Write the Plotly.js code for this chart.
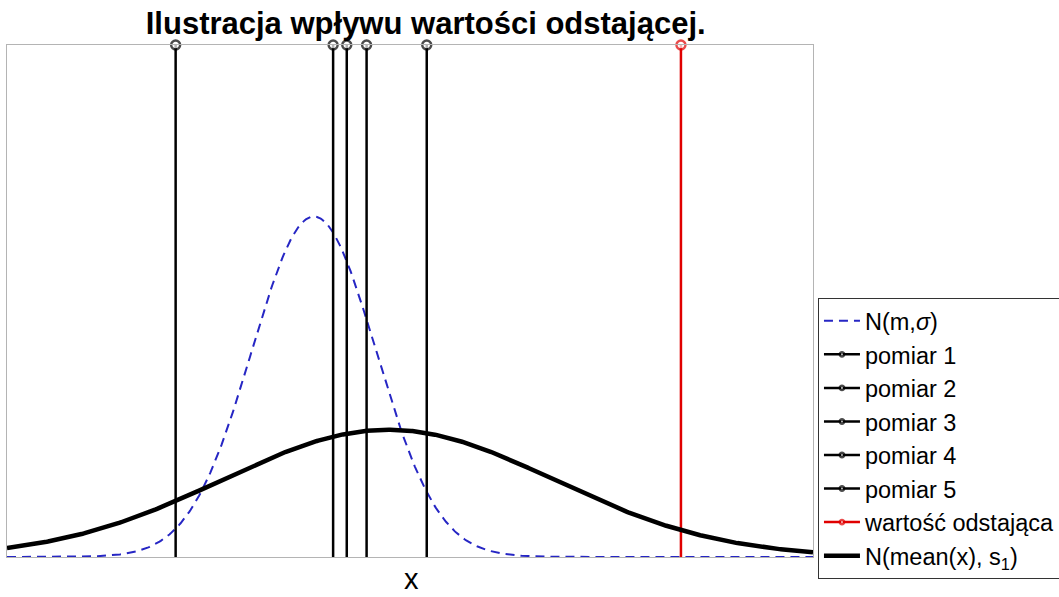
<!DOCTYPE html>
<html>
<head>
<meta charset="utf-8">
<script src="https://cdn.plot.ly/plotly-3.0.1.min.js"></script>
<style>html,body{margin:0;padding:0;background:#fff;}#chart{width:1059px;height:597px;}</style>
</head>
<body>
<div id="chart"></div>
<script>
// Parameters and data
const m = 10;            // mean of N(m, sigma)
const sigma = 1;         // std of N(m, sigma)
const pomiary = [7.77, 10.31, 10.53, 10.85, 11.82];   // measurements 1..5
const outlier = 15.92;   // outlier value
const xRange = [5.05, 18.05];
const yRange = [0, 0.6];
const pomiarLabels = ["pomiar 1", "pomiar 2", "pomiar 3", "pomiar 4", "pomiar 5"];

function pdf(x, mu, s) {
  return Math.exp(-0.5 * ((x - mu) / s) ** 2) / (s * Math.sqrt(2 * Math.PI));
}
const all = pomiary.concat([outlier]);
const meanX = all.reduce((a, b) => a + b, 0) / all.length;
const s1 = Math.sqrt(all.reduce((a, b) => a + (b - meanX) ** 2, 0) / (all.length - 1));

const grid = [];
for (let v = xRange[0]; v <= xRange[1] + 1e-9; v += 0.02) grid.push(v);

const traces = [];
traces.push({
  x: grid, y: grid.map(v => pdf(v, m, sigma)),
  mode: 'lines', name: 'N(m,<i>σ</i>)',
  line: {color: '#2626c4', width: 2, dash: '9px,6px'}
});
pomiary.forEach((p, i) => {
  traces.push({
    x: [p, p], y: [0, yRange[1]], mode: 'lines+markers', name: pomiarLabels[i],
    line: {color: '#000', width: 2.5},
    marker: {size: [0, 9], color: '#fff', line: {color: '#000', width: 2.4}},
    cliponaxis: false
  });
});
traces.push({
  x: [outlier, outlier], y: [0, yRange[1]], mode: 'lines+markers', name: 'wartość odstająca',
  line: {color: '#e00000', width: 2.5},
  marker: {size: [0, 9], color: '#fff', line: {color: '#e00000', width: 2.4}},
  cliponaxis: false
});
traces.push({
  x: grid, y: grid.map(v => pdf(v, meanX, s1)),
  mode: 'lines', name: 'N(mean(x), s<sub>1</sub>)',
  line: {color: '#000', width: 4.5}
});

const layout = {
  width: 1059, height: 597,
  margin: {l: 7, r: 246, t: 45, b: 40},
  paper_bgcolor: '#fff', plot_bgcolor: '#fff',
  font: {family: 'Liberation Sans, Arial, sans-serif', color: '#000'},
  title: {text: '<b>Ilustracja wpływu wartości odstającej.</b>', font: {size: 31, color: '#000'},
          x: 0.402, xanchor: 'center', y: 0.962, yanchor: 'middle'},
  xaxis: {range: xRange, showticklabels: false, ticks: '', showgrid: false, zeroline: false,
          showline: true, mirror: true, linecolor: '#b4b4b4', linewidth: 1, automargin: false},
  yaxis: {range: yRange, showticklabels: false, ticks: '', showgrid: false, zeroline: false,
          showline: true, mirror: true, linecolor: '#b4b4b4', linewidth: 1},
  annotations: [{text: 'x', xref: 'paper', yref: 'paper', x: 0.502, y: -0.0755,
                 xanchor: 'center', yanchor: 'bottom', borderpad: 0, showarrow: false,
                 font: {size: 29, color: '#000'}}],
  showlegend: true,
  legend: {xref: 'container', yref: 'container', x: 0.7724, xanchor: 'left', y: 0.5008, yanchor: 'top',
           bgcolor: '#fff', bordercolor: '#333', borderwidth: 1, font: {size: 23.5, color: '#000'},
           itemwidth: 36, tracegroupgap: 0}
};
Plotly.newPlot('chart', traces, layout, {displayModeBar: false, staticPlot: true});
</script>
</body>
</html>
